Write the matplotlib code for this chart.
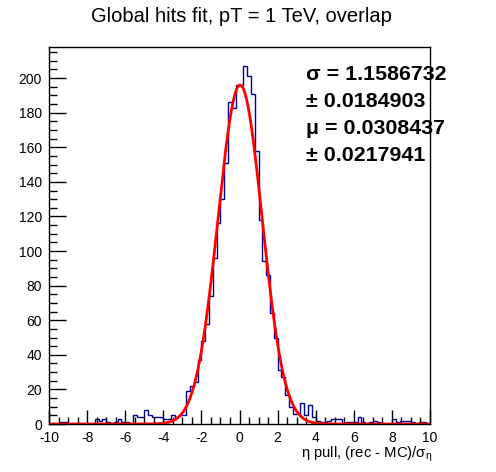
import numpy as np
import matplotlib
matplotlib.use("Agg")
import matplotlib.pyplot as plt
from matplotlib.ticker import MultipleLocator

plt.rcParams['font.family'] = ['Liberation Sans', 'DejaVu Sans']
plt.rcParams['mathtext.fontset'] = 'custom'
plt.rcParams['mathtext.rm'] = 'Liberation Sans'
plt.rcParams['mathtext.it'] = 'Liberation Sans'
plt.rcParams['axes.unicode_minus'] = False

# ---- data ----
x_min, x_max, n_bins = -10.0, 10.0, 100
counts = [
    0, 0, 0, 1, 1, 0, 0, 0, 0, 0,
    0, 0, 3, 2, 3, 1, 0, 1, 3, 1,
    1, 0, 5, 4, 4, 8, 5, 4, 4, 4,
    3, 3, 5, 4, 5, 5, 19, 22, 24, 37,
    48, 58, 74, 96, 116, 130, 151, 186, 183, 196,
    196, 207, 201, 191, 158, 118, 94, 86, 64, 50,
    31, 27, 17, 10, 6, 6, 12, 5, 11, 4,
    2, 1, 1, 2, 3, 3, 3, 0, 1, 1,
    1, 4, 1, 0, 1, 2, 1, 0, 0, 0,
    3, 1, 2, 2, 2, 1, 0, 1, 1, 0,
]
fit_const = 196.0
fit_sigma = 1.1586732
fit_sigma_err = 0.0184903
fit_mu = 0.0308437
fit_mu_err = 0.0217941
y_max = 218.0
title = "Global hits fit, pT = 1 TeV, overlap"
xlabel = r"η pull, (rec - MC)/$\sigma_{\eta}$"
stats_lines = [
    f"σ = {fit_sigma:.7f}",
    f"± {fit_sigma_err:.7f}",
    f"μ = {fit_mu:.7f}",
    f"± {fit_mu_err:.7f}",
]

# ---- figure ----
W, H = 496, 472
fig = plt.figure(figsize=(W / 100, H / 100), dpi=100)
ax = fig.add_axes([49 / W, 1 - 424 / H, (430 - 49) / W, (424 - 47) / H])

edges = np.linspace(x_min, x_max, n_bins + 1)
ax.stairs(counts, edges, color='#000099', linewidth=1.0, baseline=None)

xf = np.linspace(x_min, x_max, 2000)
yf = fit_const * np.exp(-0.5 * ((xf - fit_mu) / fit_sigma) ** 2)
ax.plot(xf, yf, color='#ff0000', linewidth=2.0)

ax.set_xlim(x_min, x_max)
ax.set_ylim(0, y_max)

ax.xaxis.set_major_locator(MultipleLocator(2))
ax.xaxis.set_minor_locator(MultipleLocator(0.5))
ax.yaxis.set_major_locator(MultipleLocator(20))
ax.yaxis.set_minor_locator(MultipleLocator(5))
ax.tick_params(axis='both', which='both', direction='in', top=False, right=False,
               labelsize=10, width=1, color='black')
ax.tick_params(axis='x', which='major', length=10, pad=5)
ax.tick_params(axis='x', which='minor', length=5)
ax.tick_params(axis='y', which='major', length=12, pad=5)
ax.tick_params(axis='y', which='minor', length=6)
for s in ax.spines.values():
    s.set_linewidth(1.0)

fig.text(241 / W, 1 - 17 / H, title, ha='center', va='center', fontsize=14.5)
fig.text(432 / W, 1 - 454 / H, xlabel, ha='right', va='center', fontsize=10.7)

for i, line in enumerate(stats_lines):
    fig.text(306 / W, 1 - (74 + 27.3 * i) / H, line, ha='left', va='center',
             fontsize=15.4, fontweight='bold')

fig.savefig("out.png", dpi=100)
